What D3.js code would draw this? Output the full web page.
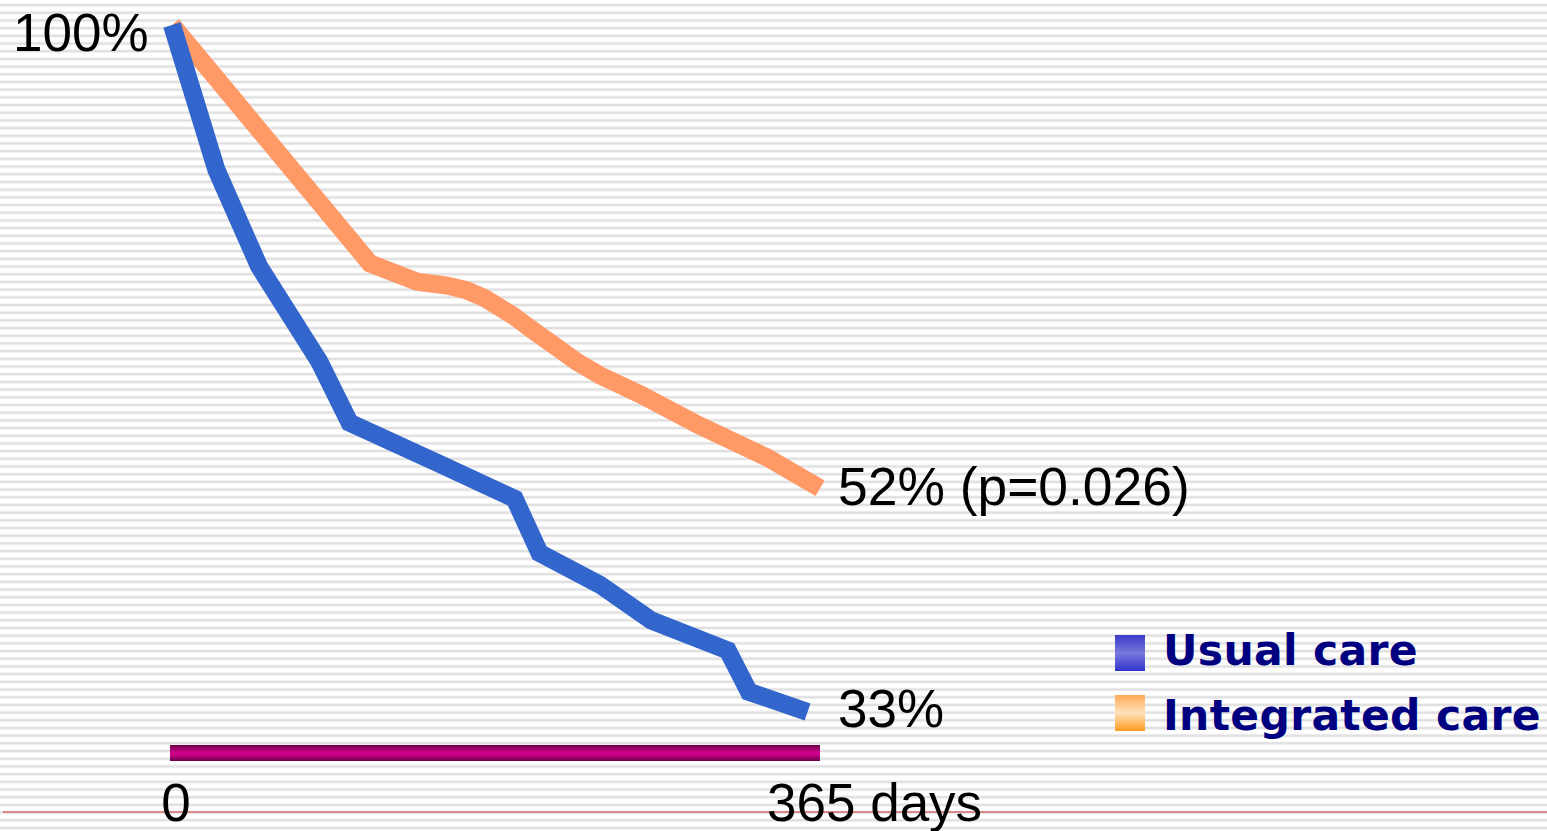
<!DOCTYPE html>
<html>
<head>
<meta charset="utf-8">
<script src="https://cdn.jsdelivr.net/npm/d3@7"></script>
<style>
html,body{margin:0;padding:0;background:#fff;overflow:hidden;}
svg{display:block;}
</style>
</head>
<body>
<svg id="chart" width="1547" height="831"></svg>
<script>
// ---- data ----
const usualDays = [0, 25, 49, 83, 100, 151, 193, 207, 241, 270, 313, 325, 358];
const usualPct  = [100, 85.0, 75.0, 65.1, 58.8, 54.5, 50.9, 45.3, 42.0, 38.3, 35.2, 30.9, 28.8];
const integratedDays = [0, 111.5, 138, 155, 166, 176, 192, 203, 216, 228, 241, 264, 297, 335, 365];
const integratedPct  = [100, 75.3, 73.4, 73.0, 72.5, 71.7, 69.9, 68.4, 66.7, 65.1, 63.7, 61.7, 58.5, 55.2, 52.0];
const seriesNames = ["Usual care", "Integrated care"];
const endLabels = ["33%", "52% (p=0.026)"];
const startLabel = "100%";
const xTickLabels = ["0", "365 days"];
const xDomain = [0, 365];

const W = 1547, H = 831;
const svg = d3.select("#chart");
const defs = svg.append("defs");

// background stripes
const stripe = defs.append("pattern").attr("id","stripes").attr("patternUnits","userSpaceOnUse")
  .attr("width", 10).attr("height", 7.69).attr("y", 1.2);
stripe.append("rect").attr("x",0).attr("y",2.9).attr("width",10).attr("height",2).attr("fill","#e0e0e0");
stripe.append("rect").attr("x",0).attr("y",2.4).attr("width",10).attr("height",0.5).attr("fill","#ececec");
stripe.append("rect").attr("x",0).attr("y",4.9).attr("width",10).attr("height",0.6).attr("fill","#ececec");
svg.append("rect").attr("width",W).attr("height",H).attr("fill","url(#stripes)");

// red baseline
svg.append("line").attr("x1",3).attr("x2",W).attr("y1",812).attr("y2",812)
  .attr("stroke","#d46a6a").attr("stroke-width",1.6);

const x = d3.scaleLinear().domain(xDomain).range([172, 820]);
const y = d3.scaleLinear().domain([0, 100]).range([990, 25]);

// gradients
function vgrad(id, stops){
  const g = defs.append("linearGradient").attr("id",id).attr("x1",0).attr("x2",0).attr("y1",0).attr("y2",1);
  stops.forEach(s=>g.append("stop").attr("offset",s[0]).attr("stop-color",s[1]));
}
vgrad("gBar", [[0,"#6a0048"],[0.45,"#cc0088"],[0.6,"#cc0088"],[1,"#6a0048"]]);
vgrad("gBlue", [[0,"#3a3acc"],[0.5,"#7878dc"],[1,"#3434cc"]]);
vgrad("gOrange", [[0,"#ffaa55"],[0.5,"#ffe2bc"],[1,"#ff9a1e"]]);

// timeline bar
svg.append("rect").attr("x", x(0)-2).attr("y", 745).attr("width", x(365)-x(0)+2).attr("height", 16)
  .attr("fill","url(#gBar)");

const line = d3.line().x(d=>x(d[0])).y(d=>y(d[1]));
const integrated = integratedDays.map((d,i)=>[d, integratedPct[i]]);
const usual = usualDays.map((d,i)=>[d, usualPct[i]]);

svg.append("path").datum(integrated).attr("d", line).attr("fill","none")
  .attr("stroke","#ff9966").attr("stroke-width",18).attr("stroke-linejoin","miter").attr("stroke-linecap","butt");
svg.append("path").datum(usual).attr("d", line).attr("fill","none")
  .attr("stroke","#3366cc").attr("stroke-width",18).attr("stroke-linejoin","miter").attr("stroke-linecap","butt");

const numFont = "'Liberation Sans', Arial, sans-serif";
svg.append("text").attr("x", 13).attr("y", 51).attr("font-family", numFont).attr("font-size", 53)
  .attr("fill","#000").text(startLabel);
svg.append("text").attr("x", 838).attr("y", 505).attr("font-family", numFont).attr("font-size", 53.4)
  .attr("fill","#000").text(endLabels[1]);
svg.append("text").attr("x", 838).attr("y", 727).attr("font-family", numFont).attr("font-size", 53)
  .attr("fill","#000").text(endLabels[0]);

// x tick labels
svg.append("text").attr("x", x(0)+4).attr("y", 821).attr("text-anchor","middle").attr("font-family", numFont)
  .attr("font-size", 53).attr("fill","#000").text(xTickLabels[0]);
svg.append("text").attr("x", 767).attr("y", 821).attr("font-family", numFont)
  .attr("font-size", 53).attr("fill","#000").text(xTickLabels[1]);

// legend
const legFont = "'DejaVu Sans', Verdana, sans-serif";
const legY = [635, 695];
const legBase = [665, 730];
const legFill = ["url(#gBlue)", "url(#gOrange)"];
seriesNames.forEach((n,i)=>{
  svg.append("rect").attr("x",1115).attr("y",legY[i]).attr("width",30).attr("height",36).attr("fill",legFill[i]);
  svg.append("text").attr("x",1163).attr("y",legBase[i]).attr("font-family",legFont).attr("font-weight","bold")
    .attr("font-size",42.5).attr("letter-spacing",0.3).attr("fill","#000080").text(n);
});
</script>
</body>
</html>
